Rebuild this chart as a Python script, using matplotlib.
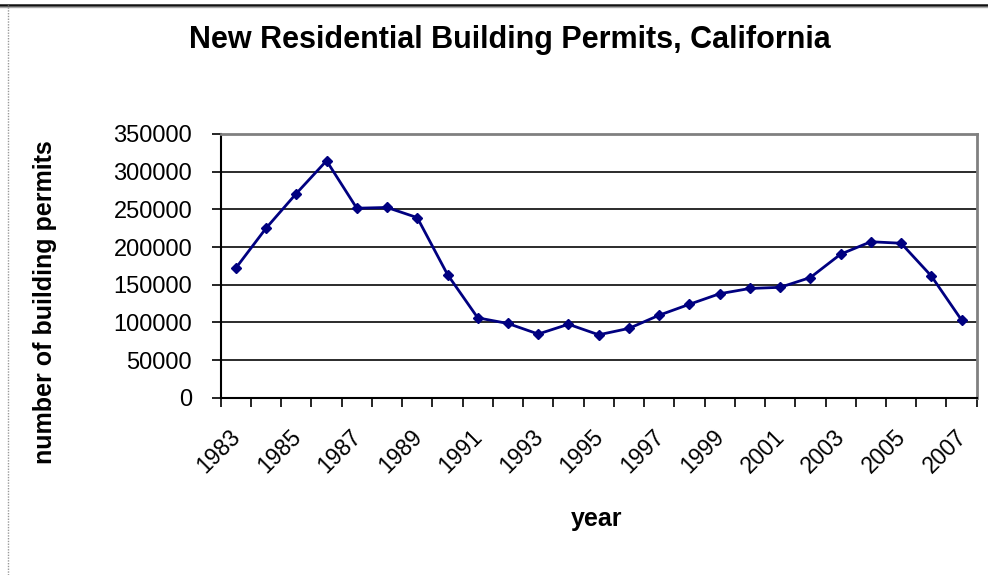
import matplotlib
matplotlib.use("Agg")
import matplotlib.pyplot as plt
import matplotlib.transforms as mtransforms
from matplotlib.lines import Line2D

years = list(range(1983, 2008))
permits = [172000, 225000, 271000, 314500, 251500, 252500, 239000, 163500,
           106000, 98500, 84500, 97500, 83500, 92000, 109500, 124000,
           138000, 145000, 146500, 159500, 190500, 207000, 205000, 161500, 103000]
y_ticks = [0, 50000, 100000, 150000, 200000, 250000, 300000, 350000]
label_years = [str(y) for y in years[::2]]

title = "New Residential Building Permits, California"
xlabel = "year"
ylabel = "number of building permits"

plt.rcParams['font.family'] = ['Liberation Sans', 'DejaVu Sans']

fig = plt.figure(figsize=(9.88, 5.75), dpi=100)
W, H = 988, 575
ax = fig.add_axes([220.7 / W, 1 - 397.7 / H, (976.7 - 220.7) / W, (397.7 - 134) / H])

x = list(range(len(years)))
ax.plot(x, permits, color='#000080', lw=2.0, marker='D', ms=5.5, zorder=3, clip_on=False)

ax.set_xlim(-0.5, len(years) - 0.5)
ax.set_ylim(0, 350000)
ax.set_yticks(y_ticks)
ax.set_yticklabels([str(v) for v in y_ticks], fontsize=17)
ax.yaxis.grid(True, color='#1a1a1a', lw=1.3)
ax.set_axisbelow(True)

ax.set_xticks([i - 0.5 for i in range(len(years) + 1)])
ax.set_xticklabels([])
ax.tick_params(axis='x', which='major', direction='out', length=6.5, width=1.2, color='black')
ax.tick_params(axis='y', direction='out', length=6.5, width=1.2, pad=14)

# rotated category labels (every other year)
base = mtransforms.blended_transform_factory(ax.transData, ax.transAxes)
off = mtransforms.ScaledTranslation(-7 / 100, -28 / 100, fig.dpi_scale_trans)
for xi, lab in zip(x[::2], label_years):
    ax.text(xi, 0, lab, transform=base + off, rotation=45, ha='right', va='top',
            rotation_mode='anchor', fontsize=16.5)

for s in ['left', 'bottom']:
    ax.spines[s].set_color('black')
    ax.spines[s].set_linewidth(1.5)
for s in ['top', 'right']:
    ax.spines[s].set_color('#808080')
    ax.spines[s].set_linewidth(2)

fig.text(510 / W, 1 - 40 / H, title, ha='center', va='center', fontsize=22, fontweight='bold')
fig.text(597 / W, 1 - 519 / H, xlabel, ha='center', va='center', fontsize=18, fontweight='bold')
fig.text(45 / W, 1 - 302 / H, ylabel, ha='center', va='center', rotation=90, fontsize=18, fontweight='bold')

# outer frame of the screenshot
fig.add_artist(Line2D([0, 1], [1 - 5 / H, 1 - 5 / H], transform=fig.transFigure, color='#111111', lw=1.8))
fig.add_artist(Line2D([0, 1], [1 - 6.8 / H, 1 - 6.8 / H], transform=fig.transFigure, color='#aaaaaa', lw=1))
fig.add_artist(Line2D([7.5 / W, 7.5 / W], [0, 1 - 5 / H], transform=fig.transFigure, color='#999999', lw=1, ls=(0, (1, 1))))

fig.savefig('out.png', dpi=100)
